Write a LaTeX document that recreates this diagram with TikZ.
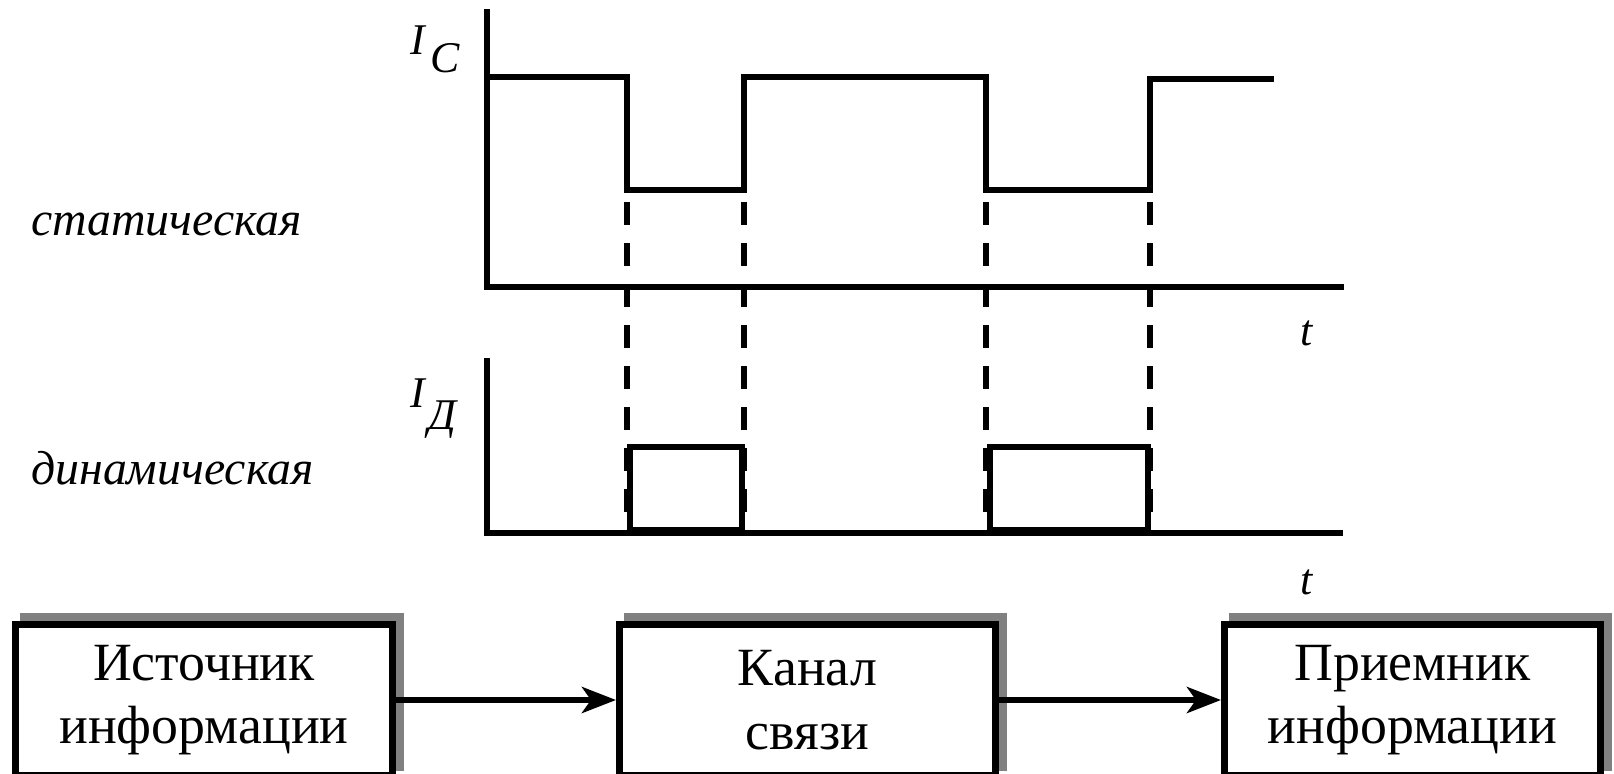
\documentclass[tikz,border=0pt]{standalone}
\usepackage{fontspec}
\setmainfont{Liberation Serif}
\usetikzlibrary{arrows.meta,shadows}
\begin{document}
\begin{tikzpicture}[x=1bp,y=-1bp,
  axis/.style={line width=6bp, line join=miter},
  signal/.style={line width=6bp, line join=miter},
  pulse/.style={line width=5.5bp, line join=miter},
  guide/.style={line width=5.5bp, dash pattern=on 23bp off 18bp},
  lbl/.style={font=\fontsize{48}{52}\selectfont\itshape, inner sep=0pt, anchor=base west},
  sym/.style={font=\fontsize{44}{48}\selectfont\itshape, inner sep=0pt, anchor=base west},
  block/.style={draw, line width=7bp, fill=white, minimum width=376bp, minimum height=151bp,
    align=center, inner sep=0pt, font=\fontsize{54}{64}\selectfont,
    drop shadow={shadow xshift=8bp, shadow yshift=8bp, fill=gray, draw=gray, line width=7bp, opacity=1}},
  flow/.style={line width=6bp, -{Stealth[length=34bp,width=26bp,inset=9bp]}}
]
\useasboundingbox (0,0) rectangle (1614,774);
\clip (0,0) rectangle (1614,774);

% static current: axes and waveform
\draw[axis] (487,9) -- (487,287) -- (1344,287);
\draw[signal] (487,77) -- (627,77) -- (627,190) -- (744,190) -- (744,77) -- (986,77)
  -- (986,190) -- (1150,190) -- (1150,79) -- (1274,79);

% dynamic current: axes and pulses
\draw[axis] (487,358) -- (487,533) -- (1343,533);
\draw[pulse] (630,530) rectangle (742,447);
\draw[pulse] (990,530) rectangle (1148,447);

% guide lines from the edges of the static waveform
\foreach \gx in {627,744,986,1150}
  \draw[guide] (\gx,202) -- (\gx,533);

% axis labels
\node[sym] (ic) at (410,55) {I};
\node[sym] (icsub) at (430,73) {C};
\node[sym] (id) at (410,407) {I};
\node[sym] (idsub) at (428,429) {Д};
\node[sym] (t1) at (1300,345) {t};
\node[sym] (t2) at (1300,594) {t};

% curve captions
\node[lbl] (stat) at (31,235) {статическая};
\node[lbl] (dyn) at (31,484) {динамическая};

% block chain
\node[block] (src) at (204,700) {Источник\\информации};
\node[block] (chn) at (807.5,700) {Канал\\связи};
\node[block] (dst) at (1412.5,700) {Приемник\\информации};
\draw[flow] (src.east) -- (chn.west);
\draw[flow] (chn.east) -- (dst.west);
\end{tikzpicture}
\end{document}
